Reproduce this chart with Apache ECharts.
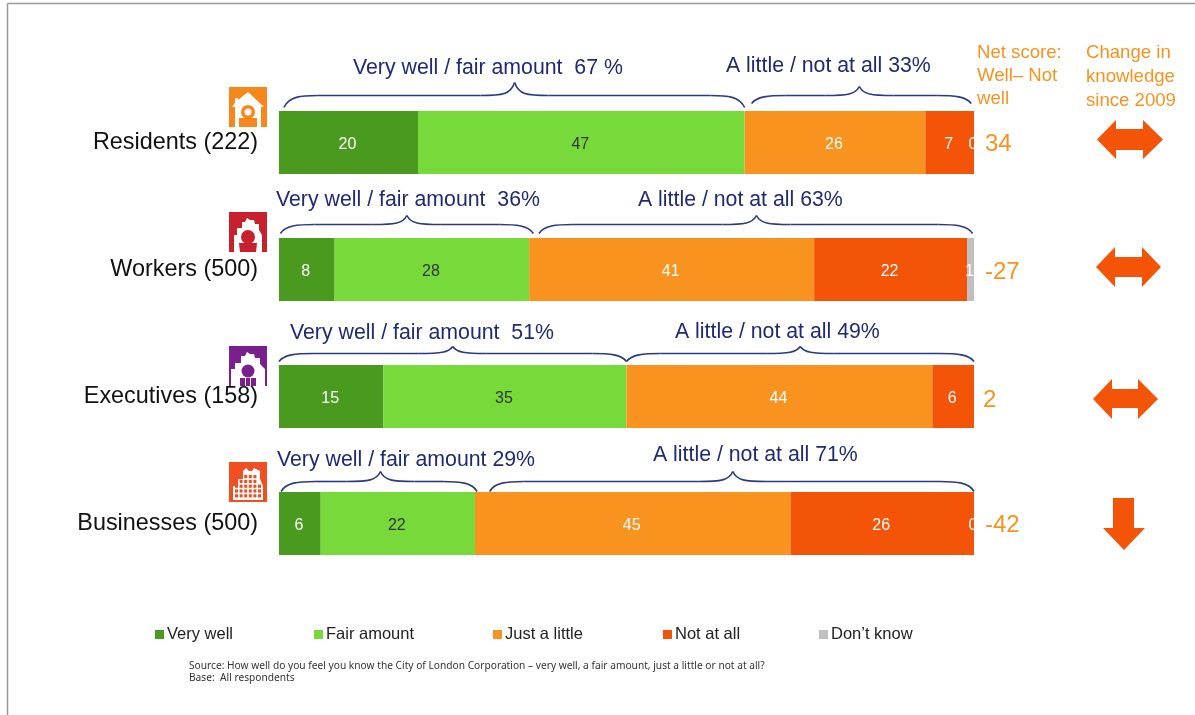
<!DOCTYPE html>
<html>
<head>
<meta charset="utf-8">
<title>Knowledge of the City of London Corporation</title>
<style>
  html, body { margin: 0; padding: 0; background: #fff; }
  #chart { width: 1195px; height: 715px; }
</style>
<script src="https://cdn.jsdelivr.net/npm/echarts@6/dist/echarts.min.js"></script>
</head>
<body>
<div id="chart"></div>
<script>
const categories = ['Residents (222)', 'Workers (500)', 'Executives (158)', 'Businesses (500)']
const veryWell = [20, 8, 15, 6]
const fairAmount = [47, 28, 35, 22.2]
const justALittle = [26, 41, 44, 45.4]
const notAtAll = [7, 22, 6, 26.4]
const dontKnow = [0, 1, null, 0]
const netScores = ['34', '-27', '2', '-42']

// brace spans, in axis units
const braceRow = [0, 0, 1, 1, 2, 2, 3, 3]
const braceFrom = [0.7, 68, 0.2, 37.4, 0, 50, 0.3, 30.3]
const braceTo = [67, 99.6, 36.6, 99.8, 50, 100, 28.5, 100]
const bracePeak = [33.9, 83.5, 18.4, 68.7, 25, 75, 14.6, 65.3]

const FONT = '"Liberation Sans", Arial, sans-serif'
const NAVY = '#1f2a70'
const ORANGE = '#f7931e'
const RED = '#f35407'
const colors = ['#4a9a1f', '#78d93a', '#f7931e', '#f35407', '#c0c0c0']

// end, shoulder and tip of each brace, px from the row centre
const braceRise = [
  [-35, -47, -60], [-39, -47, -56], [-36, -45, -54], [-36, -45, -54],
  [-35, -43, -50], [-35, -43, -50], [-32, -42, -52], [-32, -42, -52]
]

function renderBrace(params, api) {
  const i = params.dataIndex
  const rise = braceRise[i]
  const c = api.coord([api.value(0), api.value(3)])
  const x0 = c[0]
  const x1 = api.coord([api.value(1), api.value(3)])[0]
  const xp = api.coord([api.value(2), api.value(3)])[0]
  const yEnd = c[1] + rise[0]
  const yMid = c[1] + rise[1]
  const yTip = c[1] + rise[2]
  const style = { stroke: '#2b3a82', lineWidth: 1.6, fill: null }
  const run = Math.min(34, (x1 - x0) / 5)
  const curve = (ax, ay, bx, by, c1x, c1y, c2x, c2y) => ({
    type: 'bezierCurve',
    shape: { x1: ax, y1: ay, x2: bx, y2: by, cpx1: c1x, cpy1: c1y, cpx2: c2x, cpy2: c2y },
    style
  })
  const line = (ax, bx) => ({ type: 'line', shape: { x1: ax, y1: yMid, x2: bx, y2: yMid }, style })
  return {
    type: 'group',
    children: [
      curve(x0, yEnd, x0 + run, yMid, x0 + 5, yMid + 1, x0 + run / 2, yMid),
      line(x0 + run, xp - run),
      curve(xp - run, yMid, xp, yTip, xp - 12, yMid, xp - 4, yMid - 1),
      curve(xp + run, yMid, xp, yTip, xp + 12, yMid, xp + 4, yMid - 1),
      line(xp + run, x1 - run),
      curve(x1, yEnd, x1 - run, yMid, x1 - 5, yMid + 1, x1 - run / 2, yMid)
    ]
  }
}

function barSeries(name, data, color, labelColor) {
  return {
    name,
    type: 'bar',
    stack: 'total',
    data,
    barWidth: 63,
    itemStyle: { color },
    label: {
      show: true,
      position: 'inside',
      offset: [-1, 2],
      color: labelColor,
      fontSize: 16,
      fontFamily: FONT,
      formatter: p => Math.round(p.value)
    }
  }
}

function legendAt(name, left) {
  return {
    data: [name],
    left,
    top: 621,
    icon: 'rect',
    itemWidth: 9,
    itemHeight: 9,
    textStyle: { fontFamily: FONT, fontSize: 16.5, color: '#222', padding: [0, 0, 0, -2] }
  }
}

function text(str, x, y, size, color, family) {
  return {
    type: 'text',
    x,
    y,
    style: { text: str, fontFamily: family || FONT, fontSize: size, fill: color, textVerticalAlign: 'middle' }
  }
}

function poly(points, fill) {
  return { type: 'polygon', shape: { points }, style: { fill } }
}

function block(x, y, width, height, fill) {
  return { type: 'rect', shape: { x, y, width, height }, style: { fill } }
}

function dot(cx, cy, r, fill) {
  return { type: 'circle', shape: { cx, cy, r }, style: { fill } }
}

function doubleArrow(x0, x1, x2, x3, top, sTop, sBot, bot) {
  const mid = (top + bot) / 2
  return poly([[x0, mid], [x1, top], [x1, sTop], [x2, sTop], [x2, top], [x3, mid],
    [x2, bot], [x2, sBot], [x1, sBot], [x1, bot]], RED)
}

function iconResidents(x, y) {
  const c = '#f7861b'
  return { type: 'group', x, y, children: [
    block(0, 0, 38, 40, c),
    poly([[19, 5], [35, 20], [32, 20], [32, 40], [6, 40], [6, 20], [3, 20], [6, 16], [6, 11], [9, 11], [9, 13]], '#fff'),
    dot(19, 25, 7, c), dot(19, 25, 3.5, '#fff'),
    block(10, 31, 18, 9, c)
  ] }
}

function iconWorkers(x, y) {
  const c = '#c8202f'
  return { type: 'group', x, y, children: [
    block(0, 0, 38, 40, c),
    poly([[5, 40], [5, 23], [8, 23], [8, 16], [13, 16], [13, 10], [16, 10], [18, 6], [21, 8], [25, 8],
      [26, 12], [30, 12], [30, 18], [33, 23], [33, 40]], '#fff'),
    dot(19, 25, 7, c),
    poly([[10, 31], [28, 31], [27, 40], [11, 40]], c)
  ] }
}

function iconExecutives(x, y) {
  const c = '#7a1f8e'
  return { type: 'group', x, y, children: [
    block(0, 0, 38, 40, c),
    poly([[2, 40], [2, 23], [6, 23], [6, 17], [12, 17], [12, 10], [16, 10], [18, 6], [21, 8], [25, 8],
      [26, 12], [31, 12], [31, 18], [36, 23], [36, 40]], '#fff'),
    dot(19, 25, 6.5, c),
    block(11, 32, 5, 8, c), block(17, 32, 4, 8, c), block(22, 32, 5, 8, c)
  ] }
}

function iconBusinesses(x, y) {
  const c = '#f04e23'
  const kids = [
    block(0, 0, 38, 40, c),
    poly([[4, 38], [4, 24], [9, 24], [9, 17], [14, 17], [14, 9], [17, 6], [20, 9], [23, 9], [25, 6], [31, 9],
      [31, 17], [34, 24], [34, 38]], '#fff')
  ]
  for (let r = 0; r < 5; r++) {
    for (let k = 0; k < 6; k++) {
      if (r > 1 || (k > 0 && k < 5)) kids.push(block(6 + k * 4.6, 13 + r * 4.8, 3, 3.2, c))
    }
  }
  return { type: 'group', x, y, children: kids }
}

const chart = echarts.init(document.getElementById('chart'), null, { renderer: 'canvas' })

chart.setOption({
  animation: false,
  backgroundColor: '#fff',
  color: colors,
  legend: [
    legendAt('Very well', 150),
    legendAt('Fair amount', 309),
    legendAt('Just a little', 488),
    legendAt('Not at all', 658),
    legendAt('Don\u2019t know', 814)
  ],
  grid: { left: 279, width: 695, top: 79, height: 508 },
  xAxis: { type: 'value', min: 0, max: 100, show: false },
  yAxis: {
    type: 'category',
    inverse: true,
    data: categories,
    axisLine: { show: false },
    axisTick: { show: false },
    axisLabel: { color: '#111', fontSize: 23.4, fontFamily: FONT, margin: 21 }
  },
  series: [
    barSeries('Very well', veryWell, colors[0], '#fff'),
    barSeries('Fair amount', fairAmount, colors[1], '#333'),
    barSeries('Just a little', justALittle, colors[2], '#fff'),
    barSeries('Not at all', notAtAll, colors[3], '#fff'),
    barSeries('Don\u2019t know', dontKnow, colors[4], '#fff'),
    {
      type: 'custom',
      silent: true,
      clip: false,
      renderItem: renderBrace,
      encode: { x: [0, 1, 2], y: 3 },
      data: braceFrom.map((v, i) => [v, braceTo[i], bracePeak[i], braceRow[i]]),
      z: 5
    }
  ],
  graphic: [
    { type: 'line', shape: { x1: 7.5, y1: 3.5, x2: 1195, y2: 3.5 }, style: { stroke: '#999', lineWidth: 1.5 } },
    { type: 'line', shape: { x1: 7.5, y1: 3.5, x2: 7.5, y2: 715 }, style: { stroke: '#999', lineWidth: 1.5 } },

    text('Very well / fair amount  67 %', 353, 68, 21.3, NAVY),
    text('A little / not at all 33%', 726, 66, 21.3, NAVY),
    text('Very well / fair amount  36%', 276, 200, 21.3, NAVY),
    text('A little / not at all 63%', 638, 200, 21.3, NAVY),
    text('Very well / fair amount  51%', 290, 333, 21.3, NAVY),
    text('A little / not at all 49%', 675, 332, 21.3, NAVY),
    text('Very well / fair amount 29%', 277, 460, 21.3, NAVY),
    text('A little / not at all 71%', 653, 455, 21.3, NAVY),

    text('Net score:', 977, 53, 18.6, ORANGE),
    text('Well\u2013 Not', 977, 76, 18.6, ORANGE),
    text('well', 977, 99, 18.6, ORANGE),
    text('Change in', 1086, 53, 18.6, ORANGE),
    text('knowledge', 1086, 77, 18.6, ORANGE),
    text('since 2009', 1086, 101, 18.6, ORANGE),

    text(netScores[0], 985, 144, 24, ORANGE),
    text(netScores[1], 985, 272, 24, ORANGE),
    text(netScores[2], 983, 400, 24, ORANGE),
    text(netScores[3], 985, 525, 24, ORANGE),

    doubleArrow(1097, 1116, 1143, 1163, 120, 129, 150, 159),
    doubleArrow(1096, 1115, 1142, 1161, 247, 257, 277, 287),
    doubleArrow(1093, 1112, 1138, 1158, 379, 389, 408, 419),
    poly([[1113, 498], [1134, 498], [1134, 528], [1145, 528], [1124, 550], [1103, 528], [1113, 528]], RED),

    iconResidents(229, 87),
    iconWorkers(229, 212),
    iconExecutives(229, 346),
    iconBusinesses(229, 462),

    text('Source: How well do you feel you know the City of London Corporation \u2013 very well, a fair amount, just a little or not at all?', 189, 666, 10.2, '#333', '"Noto Sans"'),
    text('Base:  All respondents', 189, 678, 10.2, '#333', '"Noto Sans"')
  ]
})
</script>
</body>
</html>
